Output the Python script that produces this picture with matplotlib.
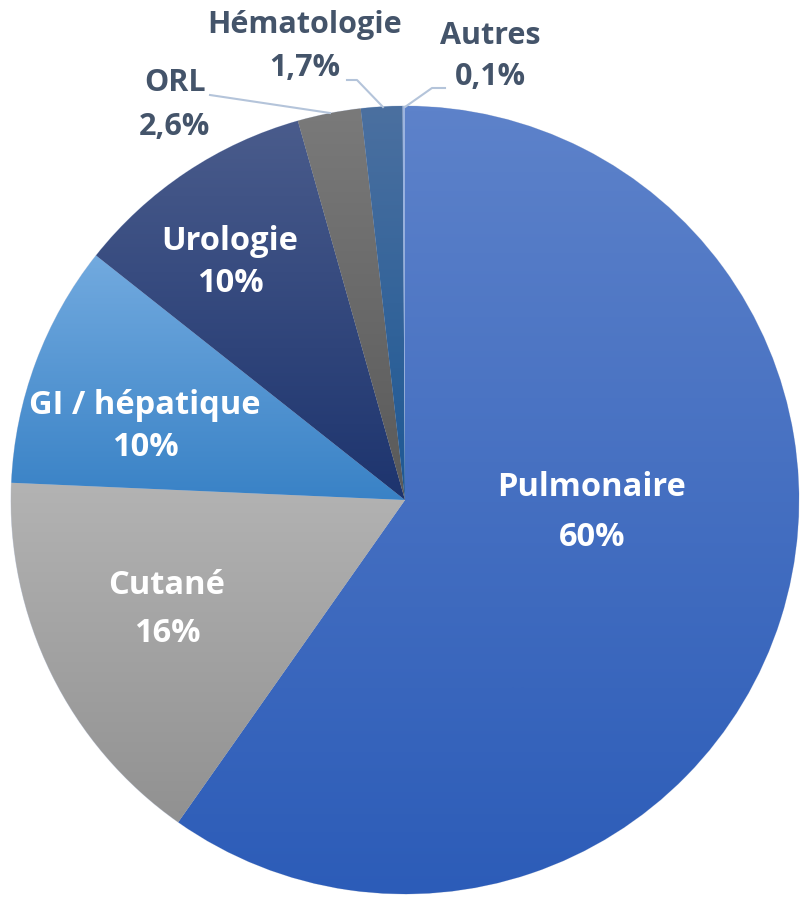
import matplotlib
matplotlib.use("Agg")
import matplotlib.pyplot as plt
import numpy as np
from matplotlib.colors import LinearSegmentedColormap

categories = ["Pulmonaire", "Cutané", "GI / hépatique", "Urologie", "ORL", "Hématologie", "Autres"]
values = [60, 16, 10, 10, 2.6, 1.7, 0.1]
pct_labels = ["60%", "16%", "10%", "10%", "2,6%", "1,7%", "0,1%"]
top_colors = ["#5D82CA", "#B3B3B3", "#72AADF", "#4A5C8C", "#7A7A7A", "#4B70A0", "#9DB5E0"]
bot_colors = ["#2C5CB8", "#919191", "#3982C6", "#1D346E", "#595959", "#1D5894", "#8AA6DA"]

W, H = 800, 898
fig = plt.figure(figsize=(W / 100, H / 100), dpi=100)
ax = fig.add_axes([0, 0, 1, 1])

cx, cy, R = 405, H - 500, 394
wedges, _ = ax.pie(values, startangle=90, counterclock=False,
                   center=(cx, cy), radius=R, frame=True,
                   wedgeprops=dict(linewidth=0.6, edgecolor="#D0D8E8"))
ax.set_xlim(0, W)
ax.set_ylim(0, H)
ax.set_aspect("equal")
ax.axis("off")

grad = np.linspace(0, 1, 256).reshape(-1, 1)
for w, tc, bc in zip(wedges, top_colors, bot_colors):
    w.set_facecolor(tc)
    verts = w.get_path().vertices
    verts = w.get_patch_transform().transform(verts)
    x0, x1 = verts[:, 0].min(), verts[:, 0].max()
    y0, y1 = verts[:, 1].min(), verts[:, 1].max()
    cmap = LinearSegmentedColormap.from_list("g", [bc, tc])
    im = ax.imshow(grad, cmap=cmap, extent=(x0, x1, y0, y1), origin="lower",
                   aspect="auto", zorder=w.get_zorder() + 0.1, interpolation="bilinear")
    im.set_clip_path(w)
ax.set_xlim(0, W)
ax.set_ylim(0, H)

font = ["Open Sans", "DejaVu Sans"]
fs_in, fs_out = 23.5, 22
inside_pos = {0: (592, 488, 537), 1: (167, 585, 633), 2: (145, 405, 447), 3: (230, 242, 283)}
for i, (x, y1, y2) in inside_pos.items():
    ax.text(x, H - y1, categories[i], ha="center", va="center", color="white",
            fontsize=fs_in, fontweight="bold", family=font, zorder=10)
    ax.text(x, H - y2, pct_labels[i], ha="center", va="center", color="white",
            fontsize=fs_in, fontweight="bold", family=font, zorder=10)

outside_pos = {4: (175, 83, 127), 5: (305, 25, 68), 6: (490, 36, 77)}
for i, (x, y1, y2) in outside_pos.items():
    ax.text(x, H - y1, categories[i], ha="center", va="center", color="#44546A",
            fontsize=fs_out, fontweight="bold", family=font, zorder=10)
    ax.text(x, H - y2, pct_labels[i], ha="center", va="center", color="#44546A",
            fontsize=fs_out, fontweight="bold", family=font, zorder=10)

lc = "#B4C4DA"
ax.plot([210, 330], [H - 95, H - 113], color=lc, lw=1.5, zorder=9)
ax.plot([347, 357, 383], [H - 80, H - 80, H - 107], color=lc, lw=1.5, zorder=9)
ax.plot([445, 432, 405], [H - 88, H - 88, H - 107], color=lc, lw=1.5, zorder=9)

fig.savefig("out.png", dpi=100)
